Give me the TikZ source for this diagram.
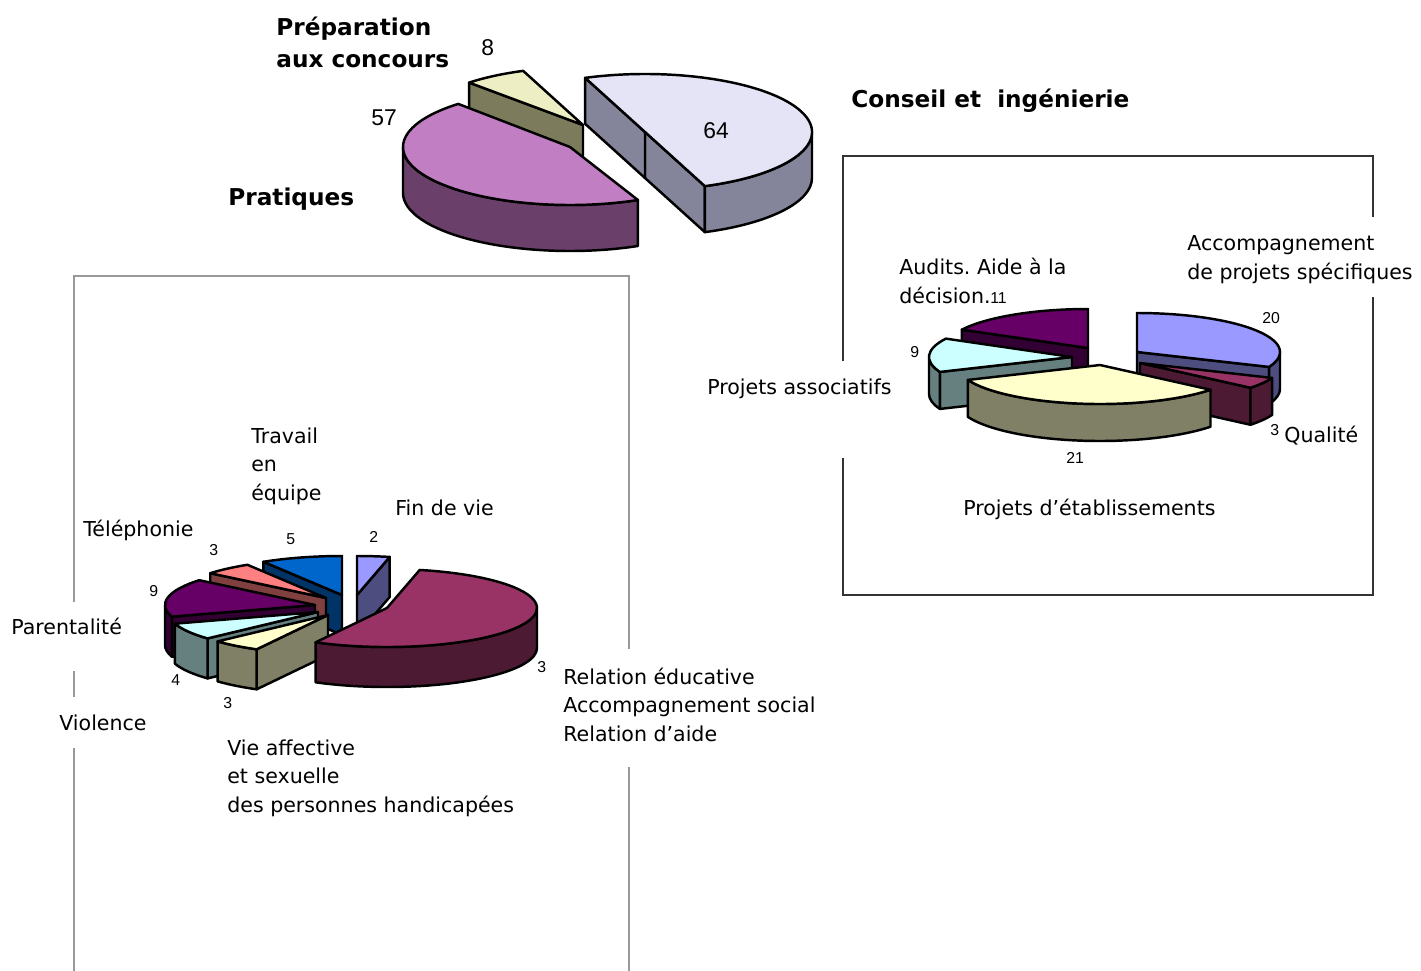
\documentclass[tikz,border=0pt]{standalone}
\usepackage{fontspec}
\setmainfont{DejaVu Sans}
\newfontfamily\numfont{Liberation Sans}
\usepackage{tikz}
\usetikzlibrary{positioning}
\frenchspacing

% Excel-like chart colours (top face / darker side)
\definecolor{lavtop}{HTML}{E4E4F6}
\definecolor{lavside}{HTML}{84849A}
\definecolor{pinktop}{HTML}{C27EC2}
\definecolor{pinkside}{HTML}{6A406A}
\definecolor{creamtop}{HTML}{EEEEC4}
\definecolor{creamside}{HTML}{7C7C5C}
\definecolor{ctop}{HTML}{9999FF}   \definecolor{cside}{HTML}{4D4D80}
\definecolor{rtop}{HTML}{993366}   \definecolor{rside}{HTML}{4D1A33}
\definecolor{ytop}{HTML}{FFFFCC}   \definecolor{yside}{HTML}{808066}
\definecolor{atop}{HTML}{CCFFFF}   \definecolor{aside}{HTML}{668080}
\definecolor{ptop}{HTML}{660066}   \definecolor{pside}{HTML}{330033}
\definecolor{stop}{HTML}{FF8080}   \definecolor{sside}{HTML}{804040}
\definecolor{btop}{HTML}{0066CC}   \definecolor{bside}{HTML}{003366}

% pie pieces: centre x, centre y, angles, colour (radii in \pa, \pb, depth \ph)
\newcommand{\slicetop}[5]{%
  \filldraw[slice,fill=#5] (#1,#2) -- ++({\pa*cos(#3)},{\pb*sin(#3)})
    arc[start angle=#3,end angle=#4,x radius=\pa,y radius=\pb] -- cycle;}
\newcommand{\sliceside}[5]{%
  \filldraw[slice,fill=#5] ({#1+\pa*cos(#3)},{#2+\pb*sin(#3)})
    arc[start angle=#3,end angle=#4,x radius=\pa,y radius=\pb] -- ++(0,-\ph)
    arc[start angle=#4,end angle=#3,x radius=\pa,y radius=\pb] -- cycle;}
\newcommand{\sliceface}[4]{%
  \filldraw[slice,fill=#4] (#1,#2) -- ++({\pa*cos(#3)},{\pb*sin(#3)}) -- ++(0,-\ph)
    -- (#1,{#2-\ph}) -- cycle;}

\begin{document}
\begin{tikzpicture}[x=0.02cm, y=0.02cm,
    slice/.style={draw=black, line width=1.4pt, line join=round},
    lbl/.style={font=\fontsize{11.7}{16.2}\selectfont, inner sep=0, anchor=base west, align=left},
    ttl/.style={font=\bfseries\fontsize{13.2}{18.1}\selectfont, inner sep=0, anchor=base west, align=left},
    bignum/.style={font=\numfont\fontsize{13}{15}\selectfont, inner sep=0, anchor=base west},
    smallnum/.style={font=\numfont\fontsize{9}{10}\selectfont, inner sep=0, anchor=base west},
    leftframe/.style={draw=black!40, line width=0.7pt},
    rightframe/.style={draw=black!80, line width=0.6pt}]
    \useasboundingbox (0,0) rectangle (1421,-971);

    % Frames
    \draw[leftframe] (74,-602) -- (74,-276) -- (629,-276) -- (629,-649);
    \draw[leftframe] (74,-671) -- (74,-697);
    \draw[leftframe] (74,-748) -- (74,-971);
    \draw[leftframe] (629,-767) -- (629,-971);
    \draw[rightframe] (843,-361) -- (843,-156) -- (1373,-156) -- (1373,-217);
    \draw[rightframe] (1373,-297) -- (1373,-595) -- (843,-595) -- (843,-458);

    % Main pie
    \def\pa{167}\def\pb{58}\def\ph{46}
    \sliceface{583}{-125}{133}{creamside}
    \slicetop{583}{-125}{111}{133}{creamtop}
    \sliceside{570}{-147}{180}{294}{pinkside}
    \slicetop{570}{-147}{132}{294}{pinktop}
    \sliceface{645}{-132}{-69}{lavside}
    \sliceface{645}{-132}{111}{lavside}
    \sliceside{645}{-132}{-69}{0}{lavside}
    \slicetop{645}{-132}{-69}{111}{lavtop}

    % multi-line labels sit on the baseline of their last line
    \node[ttl] (prep) at (276,-67) {Préparation\\aux concours};
    \node[bignum] (nprep) at (481,-55) {8};
    \node[bignum] (nprat) at (371,-125) {57};
    \node[ttl] (prat) at (228,-205) {Pratiques};
    \node[bignum] (ncons) at (703,-138) {64};
    \node[ttl] (cons) at (851,-107) {Conseil et\ \ ingénierie};

    % Conseil pie
    \def\pa{143}\def\pb{39}\def\ph{37}
    \sliceface{1088}{-348}{151.9}{pside}
    \slicetop{1088}{-348}{90}{151.9}{ptop}
    \sliceface{1137}{-352}{-22.5}{cside}
    \sliceside{1137}{-352}{-22.5}{0}{cside}
    \slicetop{1137}{-352}{-22.5}{90}{ctop}
    \sliceface{1072}{-357}{202.5}{aside}
    \sliceside{1072}{-357}{180}{202.5}{aside}
    \slicetop{1072}{-357}{151.9}{202.5}{atop}
    \sliceface{1140}{-363}{-39.4}{rside}
    \sliceside{1140}{-363}{-39.4}{-22.5}{rside}
    \slicetop{1140}{-363}{-39.4}{-22.5}{rtop}
    \sliceside{1100}{-365}{-157.5}{-39.4}{yside}
    \slicetop{1100}{-365}{-157.5}{-39.4}{ytop}

    \node[lbl] (accomp) at (1187,-279) {Accompagnement\\de projets spécifiques};
    \node[lbl] (audits) at (899,-303) {Audits. Aide à la\\décision.};
    \node[smallnum] (naudits) at (990,-303) {11};
    \node[smallnum] (naccomp) at (1262,-323) {20};
    \node[smallnum] (nassoc) at (910,-357) {9};
    \node[lbl] (assoc) at (707,-394) {Projets associatifs};
    \node[smallnum] (nqual) at (1270,-435) {3};
    \node[lbl] (qual) at (1284,-442) {Qualité};
    \node[smallnum] (netab) at (1066,-463) {21};
    \node[lbl] (etab) at (963,-515) {Projets d’établissements};

    % Pratiques pie
    \def\pa{150}\def\pb{39}\def\ph{40}
    \sliceface{342}{-595}{121.6}{bside}
    \slicetop{342}{-595}{90}{121.6}{btop}
    \sliceface{326}{-598}{140.5}{sside}
    \slicetop{326}{-598}{121.6}{140.5}{stop}
    \sliceface{357}{-595}{77.4}{cside}
    \slicetop{357}{-595}{77.4}{90}{ctop}
    \sliceface{315}{-605}{197.4}{pside}
    \sliceside{315}{-605}{180}{197.4}{pside}
    \slicetop{315}{-605}{140.5}{197.4}{ptop}
    \sliceface{318}{-612}{222.6}{aside}
    \sliceside{318}{-612}{197.4}{222.6}{aside}
    \slicetop{318}{-612}{197.4}{222.6}{atop}
    \sliceface{328}{-615}{241.6}{yside}
    \sliceside{328}{-615}{222.6}{241.6}{yside}
    \slicetop{328}{-615}{222.6}{241.6}{ytop}
    \sliceside{387}{-608}{-118.4}{0}{rside}
    \slicetop{387}{-608}{-118.4}{77.4}{rtop}

    \node[lbl] (travail) at (251,-500) {Travail\\en\\équipe};
    \node[lbl] (fin) at (395,-515) {Fin de vie};
    \node[lbl] (tel) at (83,-536) {Téléphonie};
    \node[lbl] (parent) at (11,-634) {Parentalité};
    \node[lbl] (viol) at (59,-730) {Violence};
    \node[lbl] (vieaff) at (227,-812) {Vie affective\\et sexuelle\\des personnes handicapées};
    \node[lbl] (relation) at (563,-741) {Relation éducative\\Accompagnement social\\Relation d’aide};
    \node[smallnum] (nfin) at (369,-542) {2};
    \node[smallnum] (ntravail) at (286,-544) {5};
    \node[smallnum] (ntel) at (209,-555) {3};
    \node[smallnum] (nparent) at (149,-596) {9};
    \node[smallnum] (nviol) at (171,-685) {4};
    \node[smallnum] (nvieaff) at (223,-708) {3};
    \node[smallnum] (nrelation) at (537,-672) {3};
\end{tikzpicture}
\end{document}
